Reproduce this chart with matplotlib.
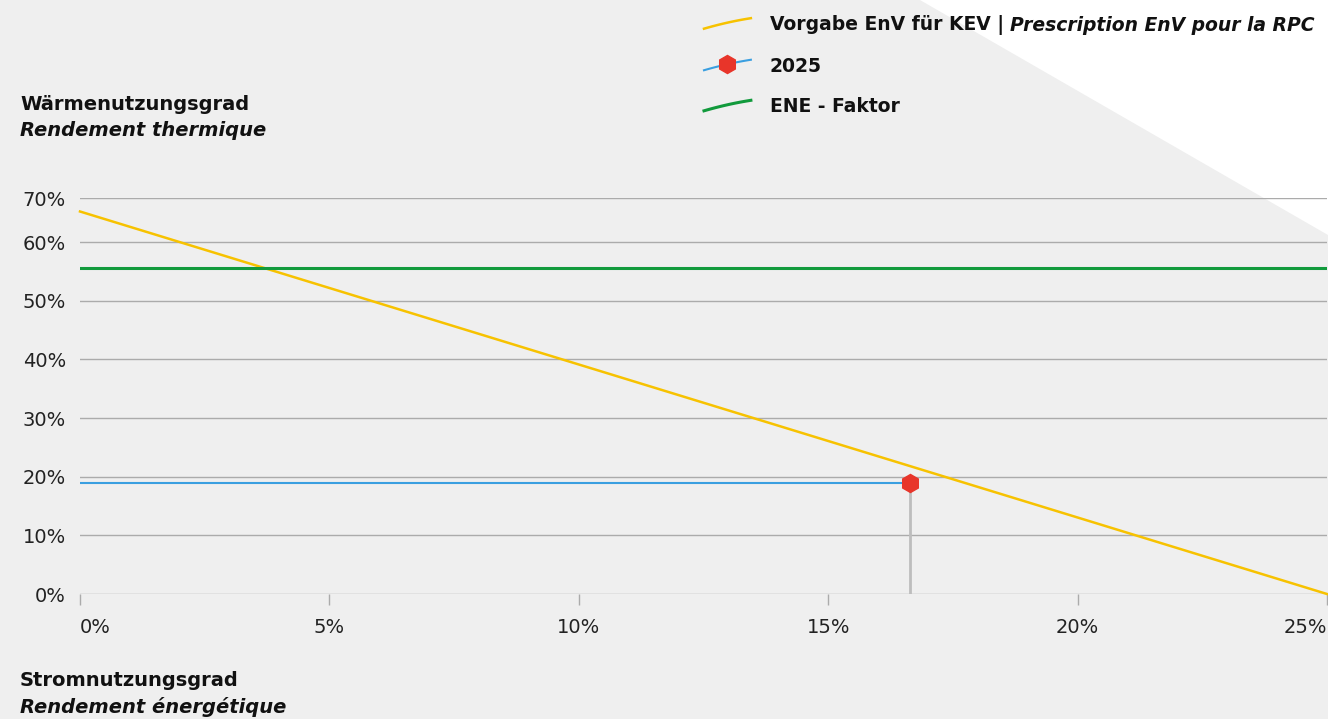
import matplotlib
matplotlib.use("Agg")
import numpy as np
import matplotlib.pyplot as plt
from matplotlib.patches import Polygon
from matplotlib.legend_handler import HandlerLine2D

# data
env_x = [0.0, 0.25]
env_y = [0.652, 0.0]
ene_factor = 0.555
point_x = 0.1663
point_y = 0.189
point_label = "2025"
x_ticks = [0, 0.05, 0.10, 0.15, 0.20, 0.25]
x_labels = ["0%", "5%", "10%", "15%", "20%", "25%"]
y_ticks = [0, 0.1, 0.2, 0.3, 0.4, 0.5, 0.6, 0.675]
y_labels = ["0%", "10%", "20%", "30%", "40%", "50%", "60%", "70%"]

yellow = "#f7c200"
green = "#119a3c"
blue = "#3a9fe0"
red = "#e8352a"
grid_c = "#ababab"
txt_c = "#111111"
bg = "#efefef"

plt.rcParams['font.family'] = ['DejaVu Sans']


class TiltedLine(HandlerLine2D):
    # legend handle drawn as a slightly rising, gently curved stroke
    def create_artists(self, legend, orig_handle, xdescent, ydescent,
                       width, height, fontsize, trans):
        arts = super().create_artists(legend, orig_handle, xdescent, ydescent,
                                      width, height, fontsize, trans)
        for a in arts:
            x = np.asarray(a.get_xdata(), dtype=float)
            if len(x) > 1:
                xs = np.linspace(x.min(), x.max(), 21)
                t = (xs - xs.min()) / (xs.max() - xs.min())
                yc = float(np.mean(a.get_ydata()))
                me = a.get_markevery()
                a.set_data(xs, yc - 0.4 * height + 0.8 * height * t * (1.3 - 0.3 * t))
                if me is not None:
                    a.set_markevery([10])
        return arts


fig = plt.figure(figsize=(13.28, 7.19), dpi=100, facecolor=bg)
# white triangle top right, behind everything
tri = Polygon([(920/1328, 1.0), (1.0, 1.0), (1.0, 1 - 235/719)],
              closed=True, transform=fig.transFigure, facecolor="white",
              edgecolor="none", zorder=-10)
fig.patches.append(tri)

ax = fig.add_axes([80/1328, 1 - 594/719, 1247/1328, 396/719])
ax.set_facecolor("none")
ax.set_xlim(0, 0.25)
ax.set_ylim(0, 0.675)

for s in ax.spines.values():
    s.set_visible(False)

for yt in y_ticks:
    ax.axhline(yt, color=grid_c, lw=1, zorder=1)

ax.set_yticks(y_ticks)
ax.set_yticklabels(y_labels, fontsize=14, color="#222222")
ax.tick_params(axis="y", length=0, pad=10)
ax.set_xticks(x_ticks)
xl = ax.set_xticklabels(x_labels, fontsize=14, color="#222222")
xl[0].set_ha("left")
xl[-1].set_ha("right")
ax.tick_params(axis="x", length=8, width=1, color=grid_c, pad=9)

# drop line from point to x axis
ax.plot([point_x, point_x], [0, point_y], color="#bdbdbd", lw=2, zorder=2)
l_env, = ax.plot(env_x, env_y, color=yellow, lw=1.8, zorder=3, clip_on=False,
                 label="Vorgabe EnV für KEV | ")
l_pt, = ax.plot([0, point_x], [point_y, point_y], color=blue, lw=1.5, zorder=3,
                marker="h", markevery=[1], markersize=13, mfc=red, mec=red,
                label=point_label)
l_ene = ax.axhline(ene_factor, color=green, lw=2.2, zorder=3, label="ENE - Faktor")

leg = fig.legend(handles=[l_env, l_pt, l_ene], loc="upper left",
                 bbox_to_anchor=(704/1328, 1 - 15/719), frameon=False,
                 borderaxespad=0, borderpad=0,
                 prop={"weight": "bold", "size": 13.5}, handlelength=2.5,
                 handletextpad=1.0, labelspacing=1.15, numpoints=1,
                 handler_map={l_env: TiltedLine(), l_pt: TiltedLine(),
                              l_ene: TiltedLine()})
for t in leg.get_texts():
    t.set_color(txt_c)

# italic second half of the first legend entry, placed after the bold part
fig.canvas.draw()
bb = leg.get_texts()[0].get_window_extent()
W, H = fig.bbox.width, fig.bbox.height
fig.text(bb.x1 / W, bb.y0 / H, "Prescription EnV pour la RPC", va="bottom",
         ha="left", fontsize=13.5, fontweight="bold", fontstyle="italic",
         color=txt_c)

# axis titles
fig.text(20/1328, 1 - 104/719, "Wärmenutzungsgrad", fontsize=14,
         fontweight="bold", color=txt_c, va="center")
fig.text(20/1328, 1 - 130/719, "Rendement thermique", fontsize=14,
         fontweight="bold", fontstyle="italic", color=txt_c, va="center")
fig.text(20/1328, 1 - 681/719, "Stromnutzungsgrad", fontsize=14,
         fontweight="bold", color=txt_c, va="center")
fig.text(20/1328, 1 - 707/719, "Rendement énergétique", fontsize=14,
         fontweight="bold", fontstyle="italic", color=txt_c, va="center")

fig.savefig("out.png", dpi=100, facecolor=bg)
